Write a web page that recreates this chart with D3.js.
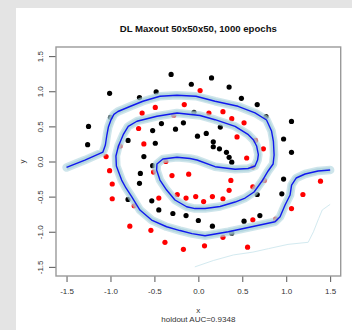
<!DOCTYPE html>
<html>
<head>
<meta charset="utf-8">
<script src="https://cdn.jsdelivr.net/npm/d3@7"></script>
<style>
  html, body { margin: 0; padding: 0; background: #e4e4e4; }
  svg { display: block; }
  text { font-family: "Liberation Sans", Arial, Helvetica, sans-serif; }
</style>
</head>
<body>
<svg id="chart" width="352" height="330"></svg>
<script>
// class 0 (black) points
const blackPts = [
  [-1.01, 0.97], [-0.67, 0.91], [-0.48, 0.99], [-0.31, 1.24], [-0.08, 1.10],
  [0.15, 1.19], [0.35, 1.06], [0.49, 0.90], [0.67, 0.81], [0.77, 0.64],
  [1.06, 0.57], [0.97, 0.32], [1.06, 0.13], [-1.25, 0.50], [-1.26, 0.24],
  [-0.05, 0.70], [-0.52, 0.44], [-0.42, 0.54], [-0.26, 0.46], [-0.17, 0.55],
  [0.25, 0.49], [0.09, 0.40], [-0.01, 0.36], [-0.49, 0.26], [0.17, 0.28],
  [0.17, 0.21], [0.24, 0.18], [0.32, 0.13], [0.35, 0.06], [0.38, -0.01],
  [-0.62, 0.07], [-0.66, -0.17], [-0.67, -0.31], [-0.80, -0.54], [-0.53, -0.56],
  [-0.45, -0.69], [-0.29, -0.74], [-0.14, -0.77], [0.00, -0.84], [0.16, -0.92],
  [0.38, -1.02], [0.52, -0.85], [0.70, -0.77], [0.97, -0.25], [0.95, -0.46],
  [0.67, -0.47], [-1.00, 0.63], [-0.80, 0.30], [-0.52, -0.06]
];

// class 1 (red) points
const redPts = [
  [0.02, 1.01], [-0.49, 0.77], [-0.16, 0.81], [-0.64, 0.69], [0.12, 0.69],
  [0.28, 0.71], [0.38, 0.61], [0.52, 0.55], [-0.62, 0.25], [0.44, 0.35],
  [0.65, 0.30], [0.74, 0.18], [0.55, 0.05], [0.62, -0.08], [-1.05, 0.07],
  [-1.01, -0.13], [-0.98, -0.32], [-0.98, -0.53], [-0.73, -0.63], [-0.37, 0.00],
  [-0.30, -0.20], [-0.11, -0.18], [0.37, -0.27], [0.62, -0.36], [0.35, -0.41],
  [0.28, -0.53], [0.16, -0.50], [0.06, -0.57], [-0.03, -0.50], [-0.14, -0.52],
  [-0.24, -0.47], [-0.45, -0.52], [1.39, -0.28], [1.19, -0.47], [1.06, -0.67],
  [0.62, -0.83], [-0.78, -0.92], [-0.54, -0.98], [-0.38, -1.15], [-0.17, -1.25],
  [0.07, -1.20], [0.28, -1.08], [0.56, -1.22], [-0.68, 0.47], [-0.28, 0.66],
  [-0.89, 0.22], [-0.51, -0.15], [0.75, -0.27], [0.88, -0.82]
];

// 0.5 decision boundary of the final model
const boundary = [
  [-1.500, -0.085], [-1.291, 0.021], [-1.086, 0.135], [-1.058, 0.235], [-1.041, 0.377],
  [-1.024, 0.491], [-0.995, 0.591], [-0.961, 0.670], [-0.915, 0.712], [-0.779, 0.783],
  [-0.631, 0.858], [-0.437, 0.929], [-0.243, 0.943], [-0.027, 0.929], [0.190, 0.858],
  [0.452, 0.786], [0.645, 0.691], [0.776, 0.591], [0.833, 0.434], [0.854, 0.288],
  [0.862, 0.093], [0.851, -0.036], [0.794, -0.135], [0.725, -0.278], [0.634, -0.434],
  [0.532, -0.520], [0.418, -0.577], [0.247, -0.641], [0.076, -0.670], [-0.038, -0.670],
  [-0.133, -0.644], [-0.266, -0.548], [-0.361, -0.406], [-0.437, -0.264], [-0.475, -0.121],
  [-0.471, -0.036], [-0.403, 0.036], [-0.243, 0.060], [-0.095, 0.043], [-0.015, 0.021],
  [0.190, -0.074], [0.418, -0.111], [0.566, -0.100], [0.645, -0.064], [0.674, 0.021],
  [0.683, 0.097], [0.663, 0.221], [0.628, 0.306], [0.569, 0.382], [0.418, 0.501],
  [0.190, 0.595], [0.019, 0.655], [-0.243, 0.691], [-0.471, 0.644], [-0.699, 0.573],
  [-0.798, 0.501], [-0.855, 0.382], [-0.910, 0.217], [-0.938, 0.078], [-0.933, -0.064],
  [-0.873, -0.264], [-0.824, -0.377], [-0.759, -0.501], [-0.665, -0.691], [-0.532, -0.833],
  [-0.361, -0.929], [-0.209, -0.983], [-0.072, -1.026], [0.076, -1.057], [0.341, -1.000],
  [0.608, -0.929], [0.873, -0.858], [0.930, -0.786], [0.987, -0.620], [1.044, -0.477],
  [1.061, -0.335], [1.113, -0.235], [1.215, -0.178], [1.363, -0.135], [1.500, -0.121]
];

// faint stray contour from one of the earlier runs
const strayContour = [
  [-0.04, -1.50], [0.17, -1.41], [0.40, -1.33], [0.62, -1.29], [0.80, -1.24],
  [1.02, -1.18], [1.25, -1.15], [1.31, -1.00], [1.37, -0.81], [1.41, -0.69], [1.50, -0.61]
];

const tickVals = [-1.5, -1, -0.5, 0, 0.5, 1, 1.5];
const titleText = "DL Maxout 50x50x50, 1000 epochs";
const xLabel = "x";
const yLabel = "y";
const subLabel = "holdout AUC=0.9348";

const svg = d3.select("#chart");
const box = {left: 56, right: 340.7, top: 47, bottom: 276};

svg.append("rect")
    .attr("x", 16).attr("y", 8)
    .attr("width", 352 - 16).attr("height", 330 - 8)
    .attr("fill", "#ffffff");

const x = d3.scaleLinear().domain([-1.62, 1.62]).range([box.left, box.right]);
const y = d3.scaleLinear().domain([-1.63, 1.63]).range([box.bottom, box.top]);

const line = d3.line().x(d => x(d[0])).y(d => y(d[1])).curve(d3.curveLinear);

// points
svg.append("g").selectAll("circle")
    .data(blackPts)
    .enter().append("circle")
    .attr("cx", d => x(d[0])).attr("cy", d => y(d[1]))
    .attr("r", 2.6).attr("fill", "#000000");
svg.append("g").selectAll("circle")
    .data(redPts)
    .enter().append("circle")
    .attr("cx", d => x(d[0])).attr("cy", d => y(d[1]))
    .attr("r", 2.6).attr("fill", "#ff0000");

// stray contour
svg.append("path")
    .datum(strayContour)
    .attr("d", line)
    .attr("fill", "none")
    .attr("stroke", "#d3eaf0")
    .attr("stroke-width", 1);

// light band made of the ensemble contours, then the main one
svg.append("path")
    .datum(boundary)
    .attr("d", line)
    .attr("fill", "none")
    .attr("stroke", "#add3de")
    .attr("stroke-width", 8.5)
    .attr("stroke-linejoin", "round")
    .attr("stroke-linecap", "round")
    .attr("opacity", 0.6);
svg.append("path")
    .datum(boundary)
    .attr("d", line)
    .attr("fill", "none")
    .attr("stroke", "#a4cdd9")
    .attr("stroke-width", 5.5)
    .attr("stroke-linejoin", "round")
    .attr("opacity", 0.6);
svg.append("path")
    .datum(boundary)
    .attr("d", line)
    .attr("fill", "none")
    .attr("stroke", "#1018ee")
    .attr("stroke-width", 1.4)
    .attr("stroke-linejoin", "round");

// axes
const xAxis = svg.append("g")
    .attr("transform", "translate(0," + box.bottom + ")")
    .call(d3.axisBottom(x).tickValues(tickVals).tickFormat(d => d.toFixed(1)).tickSize(6).tickSizeOuter(0));
xAxis.select(".domain").remove();
xAxis.selectAll("line").attr("stroke", "#555");
xAxis.selectAll("text")
    .attr("y", 17.6).attr("dy", null)
    .attr("fill", "#333").attr("font-size", "8px");

const yAxis = svg.append("g")
    .attr("transform", "translate(" + box.left + ",0)")
    .call(d3.axisLeft(y).tickValues(tickVals).tickFormat(d => d.toFixed(1)).tickSize(7).tickSizeOuter(0));
yAxis.select(".domain").remove();
yAxis.selectAll("line").attr("stroke", "#555");
yAxis.selectAll("text")
    .attr("transform", "rotate(-90)")
    .attr("x", 0).attr("y", -13).attr("dy", null)
    .attr("text-anchor", "middle")
    .attr("fill", "#333").attr("font-size", "8px");

// plot frame
svg.append("rect")
    .attr("x", box.left).attr("y", box.top)
    .attr("width", box.right - box.left).attr("height", box.bottom - box.top)
    .attr("fill", "none").attr("stroke", "#9a9a9a").attr("stroke-width", 1.4);

// labels
svg.append("text")
    .attr("x", 198.3).attr("y", 32.3)
    .attr("text-anchor", "middle")
    .attr("font-size", "9.6px").attr("font-weight", "bold")
    .attr("fill", "#111")
    .text(titleText);
svg.append("text")
    .attr("x", 198.3).attr("y", 313)
    .attr("text-anchor", "middle")
    .attr("font-size", "8px").attr("fill", "#333")
    .text(xLabel);
svg.append("text")
    .attr("x", 198.3).attr("y", 321.8)
    .attr("text-anchor", "middle")
    .attr("font-size", "8px").attr("fill", "#333")
    .text(subLabel);
svg.append("text")
    .attr("transform", "translate(25," + y(0) + ") rotate(-90)")
    .attr("text-anchor", "middle")
    .attr("font-size", "8px").attr("fill", "#333")
    .text(yLabel);
</script>
</body>
</html>
